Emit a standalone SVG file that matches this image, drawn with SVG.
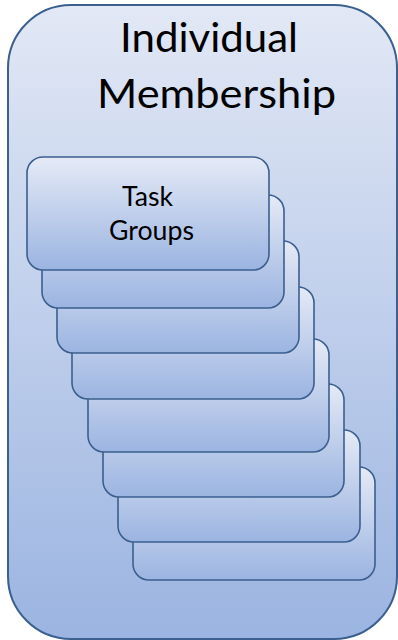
<svg xmlns="http://www.w3.org/2000/svg" width="398" height="640" viewBox="0 0 398 640">
  <defs>
    <linearGradient id="outerFill" x1="0" y1="0" x2="0" y2="1">
      <stop offset="0" stop-color="#e2e8f5"/>
      <stop offset="1" stop-color="#9bb4e1"/>
    </linearGradient>
    <linearGradient id="cardFill" x1="0" y1="0" x2="0" y2="1">
      <stop offset="0" stop-color="#e5eaf6"/>
      <stop offset="1" stop-color="#9bb4e1"/>
    </linearGradient>
    <style>
      .outer { fill: url(#outerFill); stroke: #3b5f8e; stroke-width: 2; }
      .card { fill: url(#cardFill); stroke: #3b5f8e; stroke-width: 1.6; }
      .title { font-family: Lato, "Open Sans", "Liberation Sans", sans-serif; font-size: 40px; fill: #000; }
      .label { font-family: Lato, "Open Sans", "Liberation Sans", sans-serif; font-size: 26px; fill: #000; }
    </style>
  </defs>

  <!-- container -->
  <g id="individual-membership">
    <rect class="outer" x="8" y="5" width="389" height="634" rx="63" ry="63"/>
    <text class="title" x="120" y="52" textLength="178" lengthAdjust="spacingAndGlyphs">Individual</text>
    <text class="title" x="97" y="108" textLength="239" lengthAdjust="spacingAndGlyphs">Membership</text>
  </g>

  <!-- stacked cards, back to front -->
  <g id="stack">
    <g id="card-8"><rect class="card" x="133" y="467" width="242" height="113" rx="16" ry="16"/></g>
    <g id="card-7"><rect class="card" x="118" y="430" width="242" height="112" rx="16" ry="16"/></g>
    <g id="card-6"><rect class="card" x="103" y="384" width="241" height="113" rx="16" ry="16"/></g>
    <g id="card-5"><rect class="card" x="88" y="339" width="241" height="113" rx="16" ry="16"/></g>
    <g id="card-4"><rect class="card" x="72" y="287" width="242" height="112" rx="16" ry="16"/></g>
    <g id="card-3"><rect class="card" x="57" y="241" width="242" height="112" rx="16" ry="16"/></g>
    <g id="card-2"><rect class="card" x="42" y="195" width="242" height="113" rx="16" ry="16"/></g>
    <g id="task-groups">
      <rect class="card" x="27" y="157" width="242" height="113" rx="16" ry="16"/>
      <text class="label" x="122" y="205.5" textLength="51" lengthAdjust="spacingAndGlyphs">Task</text>
      <text class="label" x="109" y="240" textLength="85" lengthAdjust="spacingAndGlyphs">Groups</text>
    </g>
  </g>
</svg>
